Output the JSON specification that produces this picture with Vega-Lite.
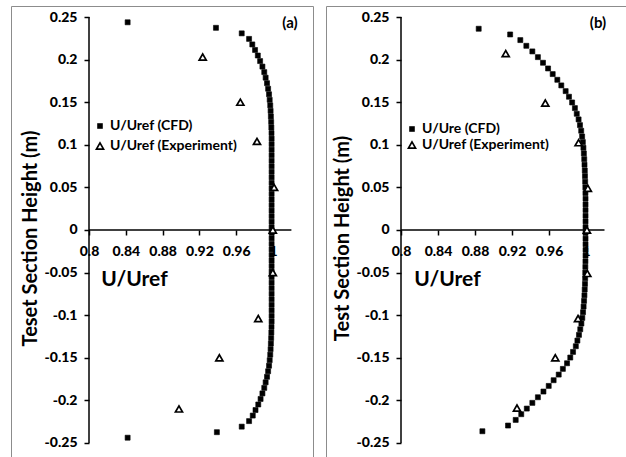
{
  "$schema": "https://vega.github.io/schema/vega-lite/v6.json",
  "background": "white",
  "padding": {"left": 10, "top": 5, "right": 0, "bottom": 0},
  "spacing": 11,
  "datasets": {
    "axes": [
      {"x": 0.8, "x2": 0.8, "y": -0.25, "y2": 0.25},
      {"x": 0.8, "x2": 1.02, "y": 0, "y2": 0}
    ],
    "la": [{"x": 1.0185, "y": 0.243, "label": "(a)"}],
    "lb": [{"x": 1.013, "y": 0.243, "label": "(b)"}],
    "a": [
      {"series":"c","x":0.842,"y":0.2438},{"series":"c","x":0.938,"y":0.2373},{"series":"c","x":0.966,"y":0.2308},{"series":"c","x":0.974,"y":0.2243},{"series":"c","x":0.9775,"y":0.2178},{"series":"c","x":0.9805,"y":0.2113},{"series":"c","x":0.9835,"y":0.2048},{"series":"c","x":0.986,"y":0.1983},{"series":"c","x":0.9885,"y":0.1918},{"series":"c","x":0.9905,"y":0.1853},{"series":"c","x":0.992,"y":0.1788},{"series":"c","x":0.9935,"y":0.1723},{"series":"c","x":0.9947,"y":0.1658},{"series":"c","x":0.9957,"y":0.1593},{"series":"c","x":0.9964,"y":0.1528},{"series":"c","x":0.997,"y":0.1463},{"series":"c","x":0.9974,"y":0.1398},{"series":"c","x":0.9977,"y":0.1333},{"series":"c","x":0.998,"y":0.1268},{"series":"c","x":0.9982,"y":0.1203},{"series":"c","x":0.9984,"y":0.1138},{"series":"c","x":0.9985,"y":0.1073},{"series":"c","x":0.9985,"y":0.1008},{"series":"c","x":0.9985,"y":0.0943},{"series":"c","x":0.9985,"y":0.0878},{"series":"c","x":0.9985,"y":0.0813},{"series":"c","x":0.9985,"y":0.0748},{"series":"c","x":0.9985,"y":0.0683},{"series":"c","x":0.9985,"y":0.0618},{"series":"c","x":0.9985,"y":0.0553},{"series":"c","x":0.9985,"y":0.0488},{"series":"c","x":0.9985,"y":0.0423},{"series":"c","x":0.9985,"y":0.0358},{"series":"c","x":0.9985,"y":0.0293},{"series":"c","x":0.9985,"y":0.0228},{"series":"c","x":0.9985,"y":0.0163},{"series":"c","x":0.9985,"y":0.0098},{"series":"c","x":0.9985,"y":0.0033},
      {"series":"c","x":0.9985,"y":-0.0033},{"series":"c","x":0.9985,"y":-0.0098},{"series":"c","x":0.9985,"y":-0.0163},{"series":"c","x":0.9985,"y":-0.0228},{"series":"c","x":0.9985,"y":-0.0293},{"series":"c","x":0.9985,"y":-0.0358},{"series":"c","x":0.9985,"y":-0.0423},{"series":"c","x":0.9985,"y":-0.0488},{"series":"c","x":0.9985,"y":-0.0553},{"series":"c","x":0.9985,"y":-0.0618},{"series":"c","x":0.9985,"y":-0.0683},{"series":"c","x":0.9985,"y":-0.0748},{"series":"c","x":0.9985,"y":-0.0813},{"series":"c","x":0.9985,"y":-0.0878},{"series":"c","x":0.9985,"y":-0.0943},{"series":"c","x":0.9985,"y":-0.1008},{"series":"c","x":0.9985,"y":-0.1073},{"series":"c","x":0.9984,"y":-0.1138},{"series":"c","x":0.9982,"y":-0.1203},{"series":"c","x":0.998,"y":-0.1268},{"series":"c","x":0.9977,"y":-0.1333},{"series":"c","x":0.9974,"y":-0.1398},{"series":"c","x":0.997,"y":-0.1463},{"series":"c","x":0.9964,"y":-0.1528},{"series":"c","x":0.9957,"y":-0.1593},{"series":"c","x":0.9947,"y":-0.1658},{"series":"c","x":0.9935,"y":-0.1723},{"series":"c","x":0.992,"y":-0.1788},{"series":"c","x":0.9905,"y":-0.1853},{"series":"c","x":0.9885,"y":-0.1918},{"series":"c","x":0.9865,"y":-0.1983},{"series":"c","x":0.984,"y":-0.2048},{"series":"c","x":0.981,"y":-0.2113},{"series":"c","x":0.978,"y":-0.2178},{"series":"c","x":0.974,"y":-0.2243},{"series":"c","x":0.966,"y":-0.2308},{"series":"c","x":0.939,"y":-0.2373},{"series":"c","x":0.842,"y":-0.2438},
      {"series":"e","x":0.9236,"y":0.203},{"series":"e","x":0.9645,"y":0.15},{"series":"e","x":0.9826,"y":0.104},{"series":"e","x":1.0012,"y":0.05},{"series":"e","x":0.9998,"y":0.0},{"series":"e","x":0.9998,"y":-0.05},{"series":"e","x":0.984,"y":-0.104},{"series":"e","x":0.9417,"y":-0.15},{"series":"e","x":0.8978,"y":-0.21}
    ],
    "b": [
      {"series":"c","x":0.884,"y":0.2362},{"series":"c","x":0.918,"y":0.2295},{"series":"c","x":0.929,"y":0.2229},{"series":"c","x":0.9355,"y":0.2162},{"series":"c","x":0.942,"y":0.2096},{"series":"c","x":0.948,"y":0.2029},{"series":"c","x":0.9535,"y":0.1963},{"series":"c","x":0.959,"y":0.1896},{"series":"c","x":0.964,"y":0.183},{"series":"c","x":0.969,"y":0.1763},{"series":"c","x":0.9733,"y":0.1697},{"series":"c","x":0.978,"y":0.163},{"series":"c","x":0.9816,"y":0.1564},{"series":"c","x":0.985,"y":0.1497},{"series":"c","x":0.988,"y":0.1431},{"series":"c","x":0.99,"y":0.1364},{"series":"c","x":0.992,"y":0.1298},{"series":"c","x":0.9935,"y":0.1231},{"series":"c","x":0.9948,"y":0.1165},{"series":"c","x":0.9958,"y":0.1098},{"series":"c","x":0.9966,"y":0.1032},{"series":"c","x":0.9972,"y":0.0965},{"series":"c","x":0.9977,"y":0.0899},{"series":"c","x":0.9981,"y":0.0832},{"series":"c","x":0.9984,"y":0.0766},{"series":"c","x":0.9987,"y":0.0699},{"series":"c","x":0.9989,"y":0.0633},{"series":"c","x":0.9991,"y":0.0566},{"series":"c","x":0.9993,"y":0.05},{"series":"c","x":0.9994,"y":0.0433},{"series":"c","x":0.9995,"y":0.0367},{"series":"c","x":0.9995,"y":0.03},{"series":"c","x":0.9995,"y":0.0234},{"series":"c","x":0.9995,"y":0.0167},{"series":"c","x":0.9995,"y":0.0101},{"series":"c","x":0.9995,"y":0.0034},
      {"series":"c","x":0.9995,"y":-0.0034},{"series":"c","x":0.9995,"y":-0.0101},{"series":"c","x":0.9995,"y":-0.0167},{"series":"c","x":0.9995,"y":-0.0234},{"series":"c","x":0.9995,"y":-0.03},{"series":"c","x":0.9994,"y":-0.0367},{"series":"c","x":0.9993,"y":-0.0433},{"series":"c","x":0.9992,"y":-0.05},{"series":"c","x":0.9991,"y":-0.0566},{"series":"c","x":0.9989,"y":-0.0633},{"series":"c","x":0.9986,"y":-0.0699},{"series":"c","x":0.9983,"y":-0.0766},{"series":"c","x":0.9979,"y":-0.0832},{"series":"c","x":0.9974,"y":-0.0899},{"series":"c","x":0.9968,"y":-0.0965},{"series":"c","x":0.996,"y":-0.1032},{"series":"c","x":0.995,"y":-0.1098},{"series":"c","x":0.9938,"y":-0.1165},{"series":"c","x":0.9924,"y":-0.1231},{"series":"c","x":0.9907,"y":-0.1298},{"series":"c","x":0.989,"y":-0.1364},{"series":"c","x":0.986,"y":-0.1431},{"series":"c","x":0.983,"y":-0.1497},{"series":"c","x":0.9795,"y":-0.1564},{"series":"c","x":0.975,"y":-0.163},{"series":"c","x":0.9705,"y":-0.1697},{"series":"c","x":0.965,"y":-0.1763},{"series":"c","x":0.9597,"y":-0.183},{"series":"c","x":0.954,"y":-0.1896},{"series":"c","x":0.948,"y":-0.1963},{"series":"c","x":0.942,"y":-0.2029},{"series":"c","x":0.936,"y":-0.2096},{"series":"c","x":0.93,"y":-0.2162},{"series":"c","x":0.924,"y":-0.2229},{"series":"c","x":0.9157,"y":-0.2295},{"series":"c","x":0.888,"y":-0.2362},
      {"series":"e","x":0.9132,"y":0.207},{"series":"e","x":0.956,"y":0.149},{"series":"e","x":0.992,"y":0.1025},{"series":"e","x":1.002,"y":0.049},{"series":"e","x":1.001,"y":0.0},{"series":"e","x":1.0014,"y":-0.051},{"series":"e","x":0.9914,"y":-0.104},{"series":"e","x":0.9668,"y":-0.15},{"series":"e","x":0.9254,"y":-0.209}
    ]
  },
  "hconcat": [
    {
      "width": 302,
      "height": 452,
      "encoding": {
        "x": {
          "field": "x", "type": "quantitative",
          "scale": {"domain": [0.715217, 1.043478], "nice": false, "zero": false},
          "axis": {
            "orient": "bottom", "offset": -228,
            "values": [0.8, 0.84, 0.88, 0.92, 0.96, 1],
            "title": "U/Uref", "titleX": 123, "titleY": 49, "titleAlign": "center", "titleBaseline": "middle", "titleFontSize": 21
          }
        },
        "y": {
          "field": "y", "type": "quantitative",
          "scale": {"domain": [-0.267606, 0.262911], "nice": false, "zero": false},
          "axis": {
            "orient": "left", "offset": -78,
            "values": [-0.25, -0.2, -0.15, -0.1, -0.05, 0, 0.05, 0.1, 0.15, 0.2, 0.25],
            "title": "Teset Section Height (m)", "titleX": -59, "titleY": 232, "titleAngle": -90, "titleAlign": "center", "titleBaseline": "middle", "titleFontSize": 20
          }
        }
      },
      "layer": [
        {
          "data": {"name": "axes"},
          "mark": {"type": "rule", "color": "black", "strokeWidth": 1.5},
          "encoding": {"x2": {"field": "x2"}, "y2": {"field": "y2"}}
        },
        {
          "data": {"name": "a"},
          "mark": {"type": "point", "stroke": "black", "opacity": 1, "fillOpacity": 1},
          "encoding": {
            "shape": {"field": "series", "type": "nominal", "scale": {"domain": ["c", "e"], "range": ["square", "triangle-up"]},
              "legend": {"orient": "none", "legendX": 82, "legendY": 113, "title": null, "labelExpr": "datum.value == 'c' ? 'U/Uref (CFD)' : 'U/Uref (Experiment)'", "rowPadding": 6,
                "encode": {"symbols": {"update": {"stroke": {"value": "black"}, "strokeWidth": {"value": 1.6}, "opacity": {"value": 1}}}}}},
            "fill": {"field": "series", "type": "nominal", "scale": {"domain": ["c", "e"], "range": ["black", "white"]}},
            "size": {"field": "series", "type": "nominal", "scale": {"domain": ["c", "e"], "range": [25, 50]}},
            "strokeWidth": {"field": "series", "type": "nominal", "scale": {"domain": ["c", "e"], "range": [0.6, 1.7]}, "legend": null}
          }
        },
        {
          "data": {"name": "la"},
          "mark": {"type": "text", "font": "Lato", "fontWeight": "bold", "fontSize": 15, "color": "black", "align": "center", "baseline": "middle"},
          "encoding": {"text": {"field": "label"}}
        }
      ],
      "resolve": {"scale": {"shape": "independent", "fill": "independent", "size": "independent", "strokeWidth": "independent"}}
    },
    {
      "width": 302,
      "height": 452,
      "encoding": {
        "x": {
          "field": "x", "type": "quantitative",
          "scale": {"domain": [0.718919, 1.045405], "nice": false, "zero": false},
          "axis": {
            "orient": "bottom", "offset": -228,
            "values": [0.8, 0.84, 0.88, 0.92, 0.96, 1],
            "title": "U/Uref", "titleX": 121, "titleY": 49, "titleAlign": "center", "titleBaseline": "middle", "titleFontSize": 21
          }
        },
        "y": {
          "field": "y", "type": "quantitative",
          "scale": {"domain": [-0.267606, 0.262911], "nice": false, "zero": false},
          "axis": {
            "orient": "left", "offset": -75,
            "values": [-0.25, -0.2, -0.15, -0.1, -0.05, 0, 0.05, 0.1, 0.15, 0.2, 0.25],
            "title": "Test Section Height (m)", "titleX": -59, "titleY": 232, "titleAngle": -90, "titleAlign": "center", "titleBaseline": "middle", "titleFontSize": 20
          }
        }
      },
      "layer": [
        {
          "data": {"name": "axes"},
          "mark": {"type": "rule", "color": "black", "strokeWidth": 1.5},
          "encoding": {"x2": {"field": "x2"}, "y2": {"field": "y2"}}
        },
        {
          "data": {"name": "b"},
          "mark": {"type": "point", "stroke": "black", "opacity": 1, "fillOpacity": 1},
          "encoding": {
            "shape": {"field": "series", "type": "nominal", "scale": {"domain": ["c", "e"], "range": ["square", "triangle-up"]},
              "legend": {"orient": "none", "legendX": 79, "legendY": 116, "title": null, "labelExpr": "datum.value == 'c' ? 'U/Ure (CFD)' : 'U/Uref (Experiment)'", "rowPadding": 2,
                "encode": {"symbols": {"update": {"stroke": {"value": "black"}, "strokeWidth": {"value": 1.6}, "opacity": {"value": 1}}}}}},
            "fill": {"field": "series", "type": "nominal", "scale": {"domain": ["c", "e"], "range": ["black", "white"]}},
            "size": {"field": "series", "type": "nominal", "scale": {"domain": ["c", "e"], "range": [25, 50]}},
            "strokeWidth": {"field": "series", "type": "nominal", "scale": {"domain": ["c", "e"], "range": [0.6, 1.7]}, "legend": null}
          }
        },
        {
          "data": {"name": "lb"},
          "mark": {"type": "text", "font": "Lato", "fontWeight": "bold", "fontSize": 15, "color": "black", "align": "center", "baseline": "middle"},
          "encoding": {"text": {"field": "label"}}
        }
      ],
      "resolve": {"scale": {"shape": "independent", "fill": "independent", "size": "independent", "strokeWidth": "independent"}}
    }
  ],
  "resolve": {
    "scale": {"x": "independent", "y": "independent", "shape": "independent", "fill": "independent", "size": "independent", "strokeWidth": "independent"},
    "axis": {"x": "independent", "y": "independent"},
    "legend": {"shape": "independent", "fill": "independent", "size": "independent", "strokeWidth": "independent"}
  },
  "config": {
    "view": {"stroke": "#8c8c8c", "strokeWidth": 1},
    "axis": {
      "domain": false, "grid": false,
      "tickColor": "black", "tickWidth": 1.5, "tickSize": 5,
      "labelFont": "Lato", "labelFontWeight": 900, "labelFontSize": 14, "labelColor": "black", "labelPadding": 7,
      "labelExpr": "toString(datum.value)", "labelOverlap": false, "labelFlush": false, "labelBound": false,
      "titleFont": "Lato", "titleFontWeight": "bold", "titleColor": "black"
    },
    "axisX": {"labelPadding": 9},
    "legend": {
      "padding": 0, "labelFont": "Lato", "labelFontWeight": "bold", "labelFontSize": 14, "labelColor": "black",
      "labelOffset": 3
    }
  }
}
